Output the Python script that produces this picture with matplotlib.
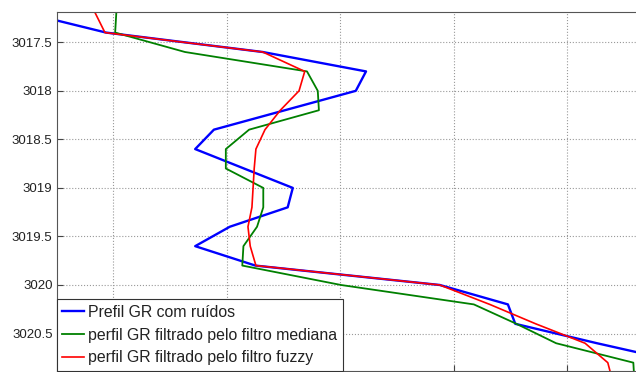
import matplotlib.pyplot as plt

plt.rcParams['font.family'] = ['Liberation Sans', 'DejaVu Sans']

profundidade = [3017.2, 3017.4, 3017.6, 3017.8, 3018.0, 3018.2, 3018.4, 3018.6,
                3018.8, 3019.0, 3019.2, 3019.4, 3019.6, 3019.8, 3020.0, 3020.2,
                3020.4, 3020.6, 3020.8, 3021.0]
gr_ruido = [4.8, 18.7, 46.3, 64.5, 62.7, 50.2, 37.7, 34.4, 43.0, 51.6,
            50.7, 40.5, 34.4, 45.0, 77.5, 89.5, 90.8, 105.2, 120.4, 128.0]
gr_mediana = [20.5, 20.3, 32.6, 54.1, 56.0, 56.2, 43.9, 39.8, 39.8, 46.4,
              46.4, 45.3, 42.9, 42.7, 60.1, 83.5, 91.0, 98.0, 111.6, 111.8]
gr_fuzzy = [16.8, 18.5, 46.3, 53.7, 52.7, 49.4, 46.7, 45.1, 44.8, 44.6,
            44.4, 43.7, 44.1, 45.1, 77.5, 86.3, 94.4, 103.1, 107.1, 108.0]

fig = plt.figure(figsize=(6.36, 3.72), dpi=100)
ax = fig.add_axes([56.7 / 636, 1 / 372, (681 - 56.7) / 636, (371 - 12) / 372])

ax.plot(gr_ruido, profundidade, color='#0000ff', lw=1.7, label='Prefil GR com ruídos')
ax.plot(gr_mediana, profundidade, color='#008000', lw=1.3, label='perfil GR filtrado pelo filtro mediana')
ax.plot(gr_fuzzy, profundidade, color='#ff0000', lw=1.2, label='perfil GR filtrado pelo filtro fuzzy')

ax.set_xlim(10, 120)
ax.set_ylim(3020.886, 3017.188)
ax.set_xticks([20, 40, 60, 80, 100, 120])
ax.set_yticks([3017.5, 3018, 3018.5, 3019, 3019.5, 3020, 3020.5])
ax.set_yticklabels(['3017.5', '3018', '3018.5', '3019', '3019.5', '3020', '3020.5'])
ax.tick_params(direction='in', length=4, color='#444444', labelsize=9.5,
               labelcolor='#222222', pad=3, labelbottom=False)
ax.grid(True, color='#999999', linestyle=':', linewidth=0.8)
for s in ax.spines.values():
    s.set_color('#555555')

leg = ax.legend(loc='lower left', borderaxespad=0, fancybox=False, framealpha=1,
                edgecolor='#333333', fontsize=11.4, handlelength=1.4,
                handletextpad=0.25, labelspacing=0.5, borderpad=0.35)
leg.get_frame().set_linewidth(0.8)
for t in leg.get_texts():
    t.set_color('#222222')

fig.savefig('out.png', dpi=100)
